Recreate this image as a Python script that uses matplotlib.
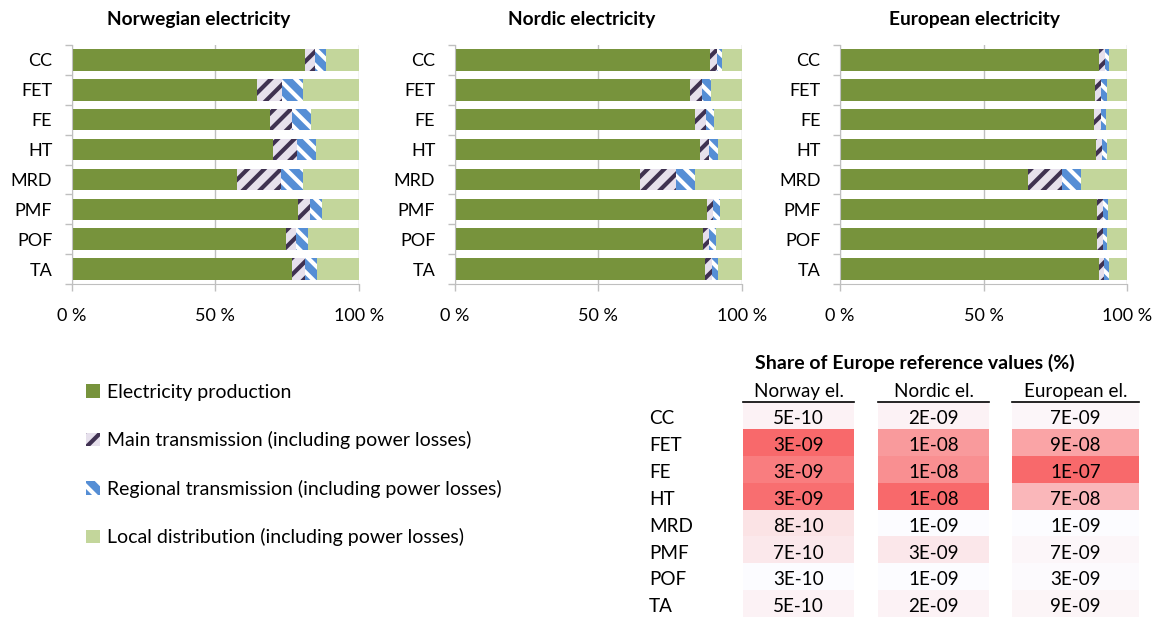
import matplotlib
matplotlib.use('Agg')
import matplotlib.pyplot as plt
import numpy as np
from matplotlib.colors import LinearSegmentedColormap, Normalize
from matplotlib.patches import Rectangle

plt.rcParams['font.family'] = ['Lato', 'DejaVu Sans']
plt.rcParams['hatch.linewidth'] = 3.0

categories = ['CC', 'FET', 'FE', 'HT', 'MRD', 'PMF', 'POF', 'TA']
series_names = ['Electricity production',
                'Main transmission (including power losses)',
                'Regional transmission (including power losses)',
                'Local distribution (including power losses)']
titles = ['Norwegian electricity', 'Nordic electricity', 'European electricity']

# shares in % of each stage
norway_prod = [81.2, 64.6, 69.1, 70.3, 57.5, 78.9, 74.8, 76.8]
norway_main = [3.5, 8.6, 7.5, 8.2, 15.4, 4.2, 3.5, 4.4]
norway_reg = [3.8, 7.5, 6.7, 6.5, 7.8, 4.0, 4.2, 4.4]
norway_local = [11.5, 19.3, 16.7, 15.0, 19.3, 12.9, 17.5, 14.4]

nordic_prod = [89.0, 82.0, 83.9, 85.6, 64.5, 87.8, 86.6, 87.2]
nordic_main = [2.3, 4.1, 3.6, 3.1, 12.6, 2.3, 2.1, 2.5]
nordic_reg = [1.8, 3.2, 2.9, 2.9, 6.6, 2.2, 2.4, 2.2]
nordic_local = [6.9, 10.7, 9.6, 8.4, 16.3, 7.7, 8.9, 8.1]

europe_prod = [90.3, 88.8, 88.6, 89.1, 65.4, 89.6, 89.4, 90.1]
europe_main = [2.0, 2.1, 2.2, 2.3, 12.0, 2.1, 2.1, 1.9]
europe_reg = [1.4, 2.0, 2.0, 1.8, 6.7, 1.7, 1.6, 1.8]
europe_local = [6.3, 7.1, 7.2, 6.8, 15.9, 6.6, 6.9, 6.2]

xticks = [0, 50, 100]
xticklabels = ['0 %', '50 %', '100 %']

# table: share of Europe reference values (%)
table_title = 'Share of Europe reference values (%)'
table_cols = ['Norway el.', 'Nordic el.', 'European el.']
norway_share = [5e-10, 3.2e-9, 2.8e-9, 3.1e-9, 8e-10, 7e-10, 3e-10, 5e-10]
nordic_share = [2e-9, 1.0e-8, 1.1e-8, 1.45e-8, 1e-9, 3e-9, 1e-9, 2e-9]
europe_share = [7e-9, 9e-8, 1.49e-7, 7e-8, 1e-9, 7e-9, 3e-9, 9e-9]

panels = [
    (norway_prod, norway_main, norway_reg, norway_local),
    (nordic_prod, nordic_main, nordic_reg, nordic_local),
    (europe_prod, europe_main, europe_reg, europe_local),
]

W, H = 1157, 617
fig = plt.figure(figsize=(W / 100, H / 100), dpi=100)

def px(x0, y0, w, h):
    return [x0 / W, 1 - (y0 + h) / H, w / W, h / H]

styles = [
    dict(color='#77933C'),
    dict(facecolor='#E6E0EC', edgecolor='#3F3151', hatch='//', linewidth=0),
    dict(facecolor='#558ED5', edgecolor='white', hatch='\\\\', linewidth=0),
    dict(color='#C3D69B'),
]

axes_left = [71.7, 454.7, 840]
title_x = [199, 582, 975]
grid_c = '#BFBFBF'
y = np.arange(len(categories))
handles = []
for i, data in enumerate(panels):
    ax = fig.add_axes(px(axes_left[i], 45, 287, 239))
    left = np.zeros(len(categories))
    for j, vals in enumerate(data):
        b = ax.barh(y, vals, left=left, height=0.72, zorder=2, **styles[j])
        left += np.array(vals)
        if i == 0:
            handles.append(b)
    ax.set_xlim(0, 100)
    ax.set_ylim(len(categories) - 0.5, -0.5)
    ax.set_yticks(y)
    ax.set_yticklabels(categories)
    ax.set_yticks(np.arange(len(categories) + 1) - 0.5, minor=True)
    ax.tick_params(axis='y', which='major', length=0, pad=14, labelsize=13)
    ax.tick_params(axis='y', which='minor', length=5, color=grid_c, width=1)
    ax.set_xticks(xticks)
    ax.set_xticklabels(xticklabels)
    ax.tick_params(axis='x', length=5, color=grid_c, width=1, pad=12, labelsize=13)
    ax.xaxis.grid(True, color=grid_c, linewidth=1, zorder=0)
    ax.set_axisbelow(True)
    for s in ['top', 'right']:
        ax.spines[s].set_visible(False)
    for s in ['left', 'bottom']:
        ax.spines[s].set_color(grid_c)
    fig.text(title_x[i] / W, 1 - 20 / H, titles[i], ha='center', va='center',
             fontsize=13.8, fontweight='bold')

fig.legend(handles, series_names, loc='upper left',
           bbox_to_anchor=(86 / W, 1 - 384 / H), frameon=False, fontsize=14,
           handlelength=0.7, handleheight=0.7, handletextpad=0.4,
           labelspacing=1.56, borderpad=0, borderaxespad=0)

# table as heat-coloured cells
cmap = LinearSegmentedColormap.from_list('wr', ['#FCFCFF', '#F8696B'])
tab = fig.add_axes(px(630, 402, 520, 215))
tab.set_xlim(0, 520)
tab.set_ylim(len(categories), 0)
tab.axis('off')
col_spans = [(113, 111), (248, 111), (382, 127)]
for c, vals in enumerate([norway_share, nordic_share, europe_share]):
    norm = Normalize(min(vals), max(vals))
    x0, w = col_spans[c]
    for r, v in enumerate(vals):
        tab.add_patch(Rectangle((x0, r), w, 1, facecolor=cmap(norm(v)),
                                edgecolor='none', clip_on=False))
        tab.text(x0 + w / 2, r + 0.62, '{:.0E}'.format(v), ha='center',
                 va='center', fontsize=13.6)
    tab.text(x0 + w / 2, -0.38, table_cols[c], ha='center', va='center',
             fontsize=13.6)
    tab.plot([x0, x0 + w], [0, 0], color='black', linewidth=1.2, clip_on=False)
for r, name in enumerate(categories):
    tab.text(19, r + 0.62, name, ha='left', va='center', fontsize=13.6)
tab.text(285, -1.45, table_title, ha='center', va='center', fontsize=14,
         fontweight='bold')

fig.savefig('out.png', dpi=100)
